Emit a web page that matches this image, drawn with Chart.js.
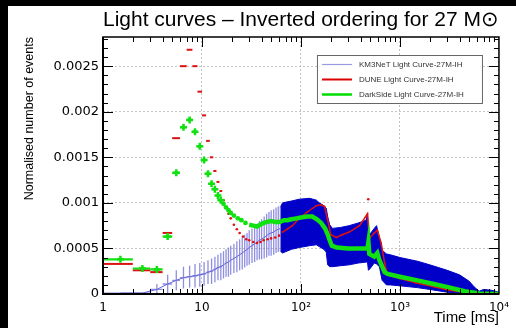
<!DOCTYPE html>
<html>
<head>
<meta charset="utf-8">
<script src="https://cdn.jsdelivr.net/npm/chart.js@4.4.1/dist/chart.umd.min.js"></script>
<style>
  html, body { margin: 0; background: #000; }
  #wrap { position: absolute; left: 8px; top: 6px; width: 508px; height: 322px; background: #fff; }
</style>
</head>
<body>
<div id="wrap"><canvas id="lightCurves"></canvas></div>
<script>
// KM3NeT: binned points with vertical errors (early part)
const km3Time = [1.5, 2.5, 3.5, 4.5, 5.5, 6.5, 7.5, 8.5, 9.5, 10.5, 11.5, 12.5, 13.5, 14.5, 15.5, 16.5, 17.5, 18.5, 19.5, 21, 22.5, 24, 25.5, 27, 28.5, 30, 32, 34, 36, 38, 40, 42.5, 45, 47.5, 50, 53, 56, 59, 62];
const km3Value = [0.00001, 0.00001, 0.00005, 0.00011, 0.00015, 0.00018, 0.00019, 0.0002, 0.00021, 0.00022, 0.00024, 0.00025, 0.00027, 0.00029, 0.0003, 0.00032, 0.00034, 0.00035, 0.00037, 0.00039, 0.00041, 0.00043, 0.00045, 0.00047, 0.00049, 0.00051, 0.00053, 0.00055, 0.00057, 0.00059, 0.0006, 0.00062, 0.00064, 0.00066, 0.00067, 0.00068, 0.0007, 0.00071, 0.00072];
const km3Error = [0, 0, 0.00006, 0.0001, 0.00011, 0.00012, 0.00012, 0.00013, 0.00013, 0.00013, 0.00013, 0.00014, 0.00014, 0.00014, 0.00015, 0.00015, 0.00015, 0.00016, 0.00016, 0.00016, 0.00017, 0.00017, 0.00018, 0.00018, 0.00018, 0.00019, 0.00019, 0.0002, 0.0002, 0.00021, 0.00022, 0.00023, 0.00024, 0.00024, 0.00025, 0.00025, 0.00025, 0.00025, 0.00025];

// KM3NeT: dense error band (later part)
const km3BandTime = [62, 65, 80, 96, 122, 143, 153, 170, 180, 186, 195, 208, 250, 307, 380, 455, 470, 480, 500, 550, 580, 620, 660, 730, 800, 1000, 1500, 2000, 3000, 4000, 5000, 5600, 6300, 7000, 8500, 10000];
const km3BandHigh = [0.00095, 0.001, 0.00102, 0.00104, 0.00105, 0.00103, 0.001, 0.00097, 0.00094, 0.00085, 0.00076, 0.00072, 0.00073, 0.00075, 0.00078, 0.00081, 0.00088, 0.00062, 0.00066, 0.00072, 0.00075, 0.00062, 0.00048, 0.00044, 0.00043, 0.0004, 0.00036, 0.00032, 0.00026, 0.00021, 0.00014, 0.00008, 0.00003, 0.00005, 0.00004, 0.00002];
const km3BandLow = [0.00047, 0.00045, 0.00049, 0.00051, 0.00053, 0.00054, 0.00052, 0.00049, 0.00046, 0.00032, 0.0003, 0.0003, 0.00031, 0.00032, 0.00034, 0.00035, 0.00035, 0.00026, 0.00028, 0.00034, 0.00033, 0.0003, 0.00015, 0.0001, 0.0001, 0.00009, 0.00007, 0.00005, 0.00002, 0.00001, 0, 0, 0, 0, 0, 0];

// DUNE
const duneTime = [1.5, 2.5, 3.5, 4.5, 5.5, 6.5, 7.5, 8.5, 9.5, 10.5, 11.5, 12.5, 13.5, 14.5, 15.5, 16.5, 17.5, 18.5, 19.5, 21, 22.5, 24, 26, 28, 30, 33, 36, 39, 42, 46, 50, 55, 60, 65, 72, 82, 96, 116, 143, 160, 173, 186, 200, 227, 260, 307, 390, 470, 490, 550, 590, 645, 700, 745, 1000, 1460, 2200, 3150, 4500, 5800, 10000];
const duneValue = [0.00033, 0.00026, 0.00024, 0.00067, 0.00171, 0.0025, 0.00268, 0.0025, 0.00222, 0.00196, 0.00168, 0.0015, 0.00135, 0.00123, 0.00113, 0.00103, 0.00095, 0.00088, 0.00083, 0.00076, 0.00071, 0.00067, 0.00063, 0.0006, 0.00059, 0.00057, 0.00056, 0.00057, 0.00059, 0.0006, 0.00061, 0.00062, 0.00064, 0.00068, 0.00071, 0.00075, 0.00083, 0.0009, 0.00097, 0.00098, 0.00096, 0.00081, 0.00065, 0.00062, 0.00065, 0.00068, 0.00075, 0.00088, 0.00061, 0.00067, 0.0007, 0.00056, 0.00034, 0.00021, 0.00017, 0.00012, 0.00008, 0.00004, 0.00002, 0, 0];
const duneOutlierTime = [478];
const duneOutlierValue = [0.00104];

// DarkSide
const darkTime = [1.5, 2.5, 3.5, 4.5, 5.5, 6.5, 7.5, 8.5, 9.5, 10.5, 11.5, 12.5, 13.5, 14.5, 15.5, 16.5, 17.5, 18.5, 19.5, 21, 23, 25, 27.5, 30, 33, 36, 40, 45, 50, 55, 61, 67, 73, 80, 90, 100, 115, 130, 145, 160, 175, 185, 195, 205, 230, 300, 400, 470, 480, 490, 550, 590, 620, 700, 750, 1000, 1500, 2200, 3200, 4500, 6300, 8000, 10000];
const darkValue = [0.00038, 0.00028, 0.00027, 0.00063, 0.00133, 0.00183, 0.00191, 0.00178, 0.00162, 0.00147, 0.00132, 0.00121, 0.00115, 0.00108, 0.00103, 0.00099, 0.00095, 0.00092, 0.00089, 0.00086, 0.00083, 0.00081, 0.00078, 0.00076, 0.00075, 0.00074, 0.00077, 0.00079, 0.0008, 0.00079, 0.00079, 0.00081, 0.00081, 0.00082, 0.00083, 0.00084, 0.00085, 0.00085, 0.00082, 0.00078, 0.00072, 0.00066, 0.00059, 0.00053, 0.00051, 0.0005, 0.0005, 0.0005, 0.00057, 0.00044, 0.00041, 0.00045, 0.00037, 0.00024, 0.00022, 0.00019, 0.00015, 0.00011, 0.00007, 0.00003, 0.000005, 0.000002, 0];

// early points are 1 ms bins
const binnedBelow = 16;
const binHalfWidth = 0.5;

const yTickStep = 0.0005;
const sup = { 2: '\u00b2', 3: '\u00b3', 4: '\u2074' };
const sans = '"Liberation Sans", Arial, Helvetica, sans-serif';
const wide = '"DejaVu Sans", sans-serif';

const pts = (t, v) => t.map((x, i) => ({ x: x, y: v[i] }));
const hidden = 'rgba(0,0,0,0)';
const isDecade = v => { const l = Math.log10(v); return Math.abs(l - Math.round(l)) < 1e-6; };

// draws x bins and y error bars of a dataset right after it is drawn
const errorBars = {
    id: 'errorBars',
    afterDatasetDraw(chart, args) {
        const ds = chart.data.datasets[args.index];
        if (!ds.errColor) return;
        const { ctx, scales: { x, y } } = chart;
        const a = chart.chartArea;
        ctx.save();
        ctx.beginPath();
        ctx.rect(a.left, a.top, a.right - a.left, a.bottom - a.top);
        ctx.clip();
        ctx.strokeStyle = ds.errColor;
        ctx.lineWidth = ds.errWidth;
        ds.data.forEach((p, i) => {
            const e = Array.isArray(ds.errY) ? ds.errY[i] : (p.x < binnedBelow ? ds.errY : 0);
            const px = x.getPixelForValue(p.x);
            const py = y.getPixelForValue(p.y);
            ctx.beginPath();
            if (e > 0) {
                ctx.moveTo(px, y.getPixelForValue(p.y + e));
                ctx.lineTo(px, y.getPixelForValue(Math.max(0, p.y - e)));
            }
            if (p.x < binnedBelow) {
                ctx.moveTo(x.getPixelForValue(p.x - binHalfWidth), py);
                ctx.lineTo(x.getPixelForValue(p.x + binHalfWidth), py);
            }
            ctx.stroke();
        });
        ctx.restore();
    }
};

// ROOT-like frame with inward ticks
const rootFrame = {
    id: 'rootFrame',
    afterDatasetsDraw(chart) {
        const { ctx, chartArea: a, scales: { x, y } } = chart;
        ctx.save();
        ctx.strokeStyle = '#000';
        ctx.lineWidth = 1;
        const seg = (x1, y1, x2, y2) => { ctx.beginPath(); ctx.moveTo(x1, y1); ctx.lineTo(x2, y2); ctx.stroke(); };
        for (let d = 0; d < 4; d++) {
            for (let k = 1; k <= 9; k++) {
                const px = Math.round(x.getPixelForValue(k * Math.pow(10, d))) + 0.5;
                const len = k === 1 ? 10 : 5;
                seg(px, a.bottom, px, a.bottom - len);
                seg(px, a.top, px, a.top + len);
            }
        }
        for (let i = 1; i * 0.0001 < y.max; i++) {
            const py = Math.round(y.getPixelForValue(i * 0.0001)) + 0.5;
            const len = i % 5 === 0 ? 10 : 5;
            seg(a.left, py, a.left + len, py);
            seg(a.right, py, a.right - len, py);
        }
        ctx.lineWidth = 1.5;
        ctx.strokeRect(a.left, a.top, a.right - a.left, a.bottom - a.top);
        ctx.lineWidth = 2;
        seg(a.left, a.top, a.left, a.bottom + 1);
        seg(a.left - 1, a.bottom, a.right, a.bottom);
        ctx.restore();
    }
};

const legendBox = {
    id: 'legendBox',
    afterDraw(chart) {
        const { ctx, chartArea: a } = chart;
        const w = 165, h = 48;
        const left = a.right - 17 - w, top = a.top + 18;
        ctx.save();
        ctx.fillStyle = '#fff';
        ctx.fillRect(left, top, w, h);
        ctx.strokeStyle = '#666';
        ctx.lineWidth = 1;
        ctx.strokeRect(left + 0.5, top + 0.5, w, h);
        const items = chart.data.datasets.filter(d => d.legendRow !== undefined)
            .sort((p, q) => p.legendRow - q.legendRow);
        ctx.font = '8px ' + sans;
        ctx.textBaseline = 'middle';
        items.forEach((d, i) => {
            const yy = top + 9.5 + i * 15;
            ctx.strokeStyle = d.legendColor;
            ctx.lineWidth = d.legendWidth;
            ctx.beginPath();
            ctx.moveTo(left + 5, yy);
            ctx.lineTo(left + 35, yy);
            ctx.stroke();
            ctx.fillStyle = '#333';
            ctx.fillText(d.label, left + 42, yy);
        });
        ctx.restore();
    }
};

const ctx = document.getElementById('lightCurves').getContext('2d');

new Chart(ctx, {
    type: 'line',
    data: {
        datasets: [{
            label: 'DarkSide Light Curve-27M-IH',
            legendRow: 2, legendColor: '#00dd00', legendWidth: 2.5,
            data: pts(darkTime, darkValue),
            borderColor: '#11e011',
            backgroundColor: '#11e011',
            borderWidth: 4.5,
            pointStyle: c => c.raw.x < binnedBelow ? 'cross' : 'circle',
            pointRadius: c => c.raw.x < binnedBelow ? 3.5 : (c.raw.x < 30 ? 2.4 : 0),
            pointBorderWidth: c => c.raw.x < binnedBelow ? 2.5 : 0,
            pointBorderColor: '#11e011',
            pointBackgroundColor: '#11e011',
            errY: 0.00002, errColor: '#11e011', errWidth: 2.2,
            segment: { borderColor: c => c.p0.parsed.x < 29 ? hidden : undefined }
        }, {
            label: 'DUNE Light Curve-27M-IH',
            legendRow: 1, legendColor: '#dd0000', legendWidth: 2,
            data: pts(duneTime, duneValue),
            borderColor: '#dd1111',
            borderWidth: 1.5,
            pointRadius: c => c.raw.x < binnedBelow ? 0 : (c.raw.x < 64 ? 1.3 : 0.9),
            pointBorderWidth: 0,
            pointBackgroundColor: '#dd1111',
            errY: 0, errColor: '#dd1111', errWidth: 2,
            segment: { borderColor: c => c.p0.parsed.x < 64 ? hidden : undefined }
        }, {
            label: 'DUNE outlier',
            data: pts(duneOutlierTime, duneOutlierValue),
            showLine: false,
            pointRadius: 1.3,
            pointBorderWidth: 0,
            pointBackgroundColor: '#dd1111'
        }, {
            label: 'KM3NeT Light Curve-27M-IH',
            legendRow: 0, legendColor: '#9a9ae0', legendWidth: 1.2,
            data: pts(km3Time, km3Value),
            borderColor: 'rgba(80,80,210,0.9)',
            borderWidth: 1,
            pointRadius: 0,
            errY: km3Error, errColor: 'rgba(105,105,215,0.75)', errWidth: 1.3
        }, {
            label: 'KM3NeT band high',
            data: pts(km3BandTime, km3BandHigh),
            borderColor: '#0000c8',
            borderWidth: 1,
            pointRadius: 0
        }, {
            label: 'KM3NeT band low',
            data: pts(km3BandTime, km3BandLow),
            borderColor: '#0000c8',
            backgroundColor: '#0000c8',
            borderWidth: 1,
            pointRadius: 0,
            fill: '-1'
        }]
    },
    options: {
        responsive: true,
        maintainAspectRatio: false,
        animation: false,
        layout: { padding: { left: 0, right: 16, top: 0, bottom: 0 } },
        plugins: {
            legend: { display: false },
            tooltip: { enabled: false },
            title: {
                display: true,
                fullSize: false,
                text: 'Light curves \u2013 Inverted ordering for 27 M\u2299',
                color: '#000',
                font: { family: sans, size: 21, weight: 'normal', lineHeight: 1.2 },
                padding: { top: 2, bottom: 3.8 }
            }
        },
        scales: {
            x: {
                type: 'logarithmic',
                min: 1,
                max: 10000,
                afterFit: s => { s.height = 34; },
                grid: {
                    drawTicks: false,
                    color: c => (c.tick && c.tick.value > 1 && isDecade(c.tick.value)) ? '#c4c4c4' : hidden
                },
                border: { display: false, dash: [2, 2] },
                ticks: {
                    autoSkip: false,
                    maxRotation: 0,
                    padding: 7,
                    color: '#000',
                    font: { family: wide, size: 12 },
                    callback: v => {
                        if (!isDecade(v)) return '';
                        const e = Math.round(Math.log10(v));
                        return e === 0 ? '1' : (e === 1 ? '10' : '10' + sup[e]);
                    }
                },
                title: {
                    display: true,
                    text: 'Time [ms]',
                    align: 'end',
                    color: '#000',
                    font: { family: sans, size: 15 },
                    padding: { top: 0, bottom: 1 }
                }
            },
            y: {
                min: 0,
                max: 0.00282,
                afterFit: s => { s.width = 95; },
                grid: {
                    drawTicks: false,
                    color: c => (c.tick && c.tick.value > 0) ? '#c4c4c4' : hidden
                },
                border: { display: false, dash: [2, 2] },
                ticks: {
                    stepSize: yTickStep,
                    includeBounds: false,
                    padding: 4,
                    color: '#000',
                    font: { family: wide, size: 13 },
                    callback: v => v === 0 ? '0' : String(Number(v.toFixed(4)))
                },
                title: {
                    display: true,
                    text: 'Normalised number of events',
                    align: 'end',
                    color: '#000',
                    font: { family: sans, size: 12.5 },
                    padding: { top: 14, bottom: 0 }
                }
            }
        }
    },
    plugins: [errorBars, rootFrame, legendBox]
});
</script>
</body>
</html>
